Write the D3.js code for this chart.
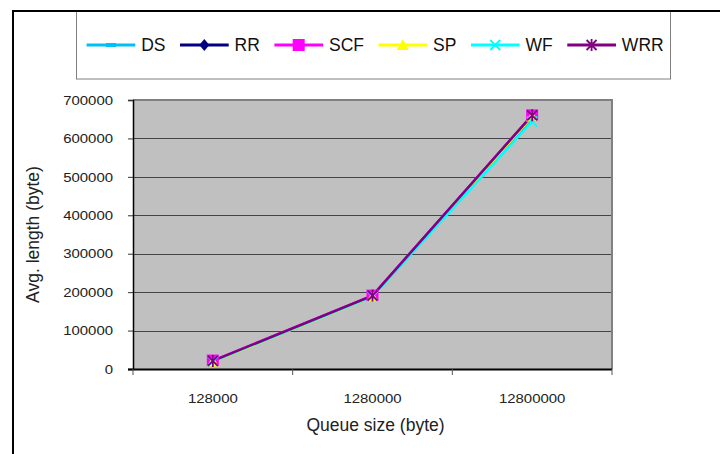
<!DOCTYPE html>
<html><head><meta charset="utf-8">
<script src="https://cdn.jsdelivr.net/npm/d3@7"></script>
<style>body{margin:0;background:#fff}svg{display:block;font-family:"Liberation Sans",Arial,sans-serif}</style>
</head><body>
<svg id="c" width="720" height="454"></svg>
<script>
const categories = ["128000", "1280000", "12800000"];
const seriesNames = ["DS", "RR", "SCF", "SP", "WF", "WRR"];
const DS  = [20000, 189000, 650000];
const RR  = [20000, 190000, 660000];
const SCF = [22000, 191000, 660000];
const SP  = [19000, 188000, 657000];
const WF  = [20000, 189000, 644000];
const WRR = [21000, 191000, 660000];
const yTicks = [0, 100000, 200000, 300000, 400000, 500000, 600000, 700000];
const xTitle = "Queue size (byte)";
const yTitle = "Avg. length (byte)";

const seriesValues = [DS, RR, SCF, SP, WF, WRR];
const colors = ["#00C0F8", "#000080", "#FF00FF", "#FFFF00", "#00FFFF", "#800080"];
const markers = ["dash", "diamond", "square", "triangle", "x", "asterisk"];

const svg = d3.select("#c");
svg.append("rect").attr("x", 13).attr("y", 11).attr("width", 740).attr("height", 480)
  .attr("fill", "#fff").attr("stroke", "#000").attr("stroke-width", 2);

const L = 133, R = 612, T = 100, B = 369;
const x = d3.scaleBand().domain(categories).range([L, R]).padding(0);
const y = d3.scaleLinear().domain([0, 700000]).range([B, T]);
const cx = c => x(c) + x.bandwidth() / 2;
const TS = 1.15; // horizontal stretch of tick labels

svg.append("rect").attr("x", L).attr("y", T).attr("width", R - L).attr("height", B - T).attr("fill", "#C0C0C0");
svg.append("g").selectAll("line").data(yTicks.slice(1)).join("line")
  .attr("x1", L).attr("x2", R).attr("y1", d => Math.round(y(d)) + 0.5).attr("y2", d => Math.round(y(d)) + 0.5)
  .attr("stroke", "#444").attr("stroke-width", 1);
svg.append("path").attr("d", `M${L},${T}H${R}V${B}`).attr("fill", "none").attr("stroke", "#808080").attr("stroke-width", 2);

// y axis
const yAxis = d3.axisLeft(y).tickValues(yTicks).tickSize(5).tickPadding(15).tickFormat(d3.format("d"));
const gy = svg.append("g").attr("transform", `translate(${L},0)`).call(yAxis);
gy.select(".domain").attr("stroke", "#000").attr("stroke-width", 1.5);
gy.selectAll(".tick line").attr("stroke", "#333");
gy.selectAll(".tick text").attr("x", 0).attr("transform", "translate(-20,0) scale(" + TS + ",1)")
  .attr("font-size", 13).attr("fill", "#222").attr("font-family", "Liberation Sans, Arial, sans-serif");

// x axis
const gx = svg.append("g").attr("transform", `translate(0,${B})`);
gx.append("line").attr("x1", L - 5).attr("x2", R).attr("y1", 0.5).attr("y2", 0.5).attr("stroke", "#000").attr("stroke-width", 2);
const bounds = categories.map(c => x(c)).concat([R]);
gx.selectAll("line.tk").data(bounds).join("line").attr("class", "tk")
  .attr("x1", d => d).attr("x2", d => d).attr("y1", 0).attr("y2", 6).attr("stroke", "#555");
gx.selectAll("text").data(categories).join("text")
  .attr("transform", d => `translate(${cx(d)},34) scale(${TS},1)`).attr("text-anchor", "middle")
  .attr("font-size", 13).attr("fill", "#222").text(d => d);

// titles
svg.append("text").attr("x", 375.5).attr("y", 431).attr("text-anchor", "middle")
  .attr("font-size", 17.5).attr("fill", "#222").text(xTitle);
svg.append("text").attr("transform", `translate(38.5,${(T + B) / 2}) rotate(-90)`).attr("text-anchor", "middle")
  .attr("font-size", 17.5).attr("fill", "#222").text(yTitle);

function drawMarker(g, type, color) {
  if (type === "dash") {
    g.append("rect").attr("x", -5).attr("y", -2).attr("width", 10).attr("height", 4).attr("fill", color);
  } else if (type === "diamond") {
    g.append("path").attr("d", "M0,-6L5,0L0,6L-5,0Z").attr("fill", color);
  } else if (type === "square") {
    g.append("rect").attr("x", -6).attr("y", -6).attr("width", 12).attr("height", 12).attr("fill", color);
  } else if (type === "triangle") {
    g.append("path").attr("d", "M0,-6L6,5L-6,5Z").attr("fill", color);
  } else if (type === "x") {
    g.append("path").attr("d", "M-5,-5L5,5M-5,5L5,-5").attr("stroke", color).attr("stroke-width", 1.8);
  } else if (type === "asterisk") {
    g.append("path").attr("d", "M-5,-5L5,5M-5,5L5,-5M0,-6V6").attr("stroke", color).attr("stroke-width", 1.8);
  }
}

const line = d3.line().x((d, i) => cx(categories[i])).y(d => y(d));
seriesValues.forEach((vals, si) => {
  svg.append("path").datum(vals).attr("d", line).attr("fill", "none")
    .attr("stroke", colors[si]).attr("stroke-width", 2.5);
});
seriesValues.forEach((vals, si) => {
  vals.forEach((v, i) => {
    const g = svg.append("g").attr("transform", `translate(${cx(categories[i])},${y(v)})`);
    drawMarker(g, markers[si], colors[si]);
  });
});

// legend
svg.append("rect").attr("x", 76.5).attr("y", 11).attr("width", 594).attr("height", 68)
  .attr("fill", "#fff").attr("stroke", "#808080").attr("stroke-width", 1);
svg.append("line").attr("x1", 13).attr("x2", 740).attr("y1", 11).attr("y2", 11).attr("stroke", "#000").attr("stroke-width", 2);
let lx = 86.6;
const ly = 45;
seriesNames.forEach((name, si) => {
  const g = svg.append("g");
  g.append("line").attr("x1", lx).attr("x2", lx + 48.7).attr("y1", ly).attr("y2", ly)
    .attr("stroke", colors[si]).attr("stroke-width", 3);
  const mg = g.append("g").attr("transform", `translate(${lx + 24.3},${ly})`);
  drawMarker(mg, markers[si], colors[si]);
  const t = g.append("text").attr("x", lx + 54.6).attr("y", ly + 6.3).attr("font-size", 17.5).attr("fill", "#111").text(name);
  const w = t.node().getComputedTextLength();
  lx = lx + 54.6 + w + 14.5;
});
</script>
</body></html>
